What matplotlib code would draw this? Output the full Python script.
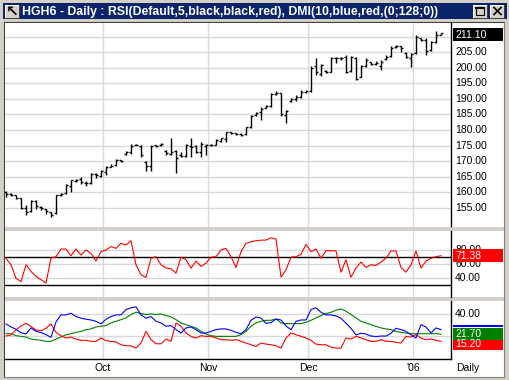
import matplotlib
matplotlib.use("Agg")
import matplotlib.pyplot as plt
from matplotlib.patches import Rectangle
import numpy as np

W, H = 510, 380

# daily OHLC bars (HGH6)
opens = [160.0, 159.5, 159.0, 158.0, 155.0, 153.8, 157.0, 155.3, 154.6, 153.5,
         153.2, 159.2, 159.6, 162.0, 163.6, 164.2, 163.0, 162.9, 165.8, 165.3,
         166.5, 168.2, 168.6, 170.2, 172.2, 173.0, 175.3, 175.0, 169.8, 168.3,
         175.1, 175.2, 173.3, 172.3, 173.2, 172.0, 171.6, 175.0, 174.8, 173.0,
         175.0, 175.3, 175.3, 176.5, 177.0, 179.3, 178.9, 178.6, 178.6, 180.8,
         184.7, 185.7, 187.0, 187.8, 191.6, 192.0, 184.8, 189.2, 189.8, 190.6,
         192.2, 192.6, 200.5, 198.0, 199.0, 198.8, 203.0, 203.2, 203.5, 199.0,
         203.0, 197.0, 200.6, 201.8, 201.2, 200.5, 202.7, 203.8, 206.8, 207.0,
         204.8, 203.2, 204.6, 209.5, 208.8, 205.8, 208.3, 210.6]
highs = [160.3, 159.8, 159.2, 158.2, 155.8, 157.6, 157.6, 155.4, 154.7, 153.6,
         159.2, 159.8, 162.5, 164.0, 164.2, 165.0, 163.5, 166.0, 166.2, 167.0,
         168.3, 169.2, 170.6, 170.4, 173.2, 175.4, 175.4, 175.1, 169.9, 175.3,
         175.3, 175.8, 173.5, 177.5, 173.5, 172.9, 175.6, 177.3, 175.1, 176.2,
         175.6, 175.4, 177.0, 177.5, 179.5, 179.5, 179.1, 179.0, 180.9, 184.8,
         185.9, 187.5, 188.1, 191.9, 192.4, 192.0, 186.3, 190.2, 191.3, 192.8,
         193.0, 200.5, 203.2, 201.3, 199.2, 203.5, 203.6, 203.5, 204.1, 203.8,
         203.5, 200.9, 203.2, 202.0, 202.2, 202.5, 204.0, 207.1, 207.3, 207.1,
         205.2, 204.6, 210.7, 209.7, 209.5, 208.6, 211.8, 211.3]
lows = [158.4, 158.6, 157.7, 154.7, 152.7, 153.6, 154.7, 154.4, 153.1, 152.0,
        153.0, 158.6, 159.3, 160.0, 163.2, 162.6, 161.9, 162.7, 164.5, 165.0,
        165.5, 168.0, 168.5, 169.6, 171.9, 172.4, 175.1, 171.3, 166.7, 166.7,
        174.6, 175.0, 172.1, 171.9, 166.2, 171.3, 171.3, 171.3, 172.7, 171.3,
        171.9, 175.0, 175.1, 176.0, 176.2, 178.6, 178.4, 178.0, 178.3, 180.5,
        184.5, 183.2, 187.0, 187.5, 191.3, 184.5, 182.2, 189.0, 189.3, 190.3,
        192.0, 192.3, 197.8, 197.5, 198.3, 198.6, 201.4, 202.5, 198.2, 198.8,
        196.1, 197.1, 200.4, 201.0, 200.8, 199.3, 202.5, 203.6, 206.5, 205.2,
        203.0, 200.4, 204.3, 208.6, 204.1, 205.5, 208.0, 210.4]
closes = [159.5, 159.0, 158.0, 155.0, 153.5, 157.2, 155.5, 155.0, 153.8, 152.5,
          159.0, 159.5, 162.2, 163.8, 163.8, 163.2, 162.8, 165.7, 165.5, 166.8,
          168.0, 168.5, 170.3, 170.0, 173.0, 175.0, 175.2, 171.8, 168.5, 175.0,
          175.0, 175.5, 172.5, 173.0, 171.0, 171.5, 175.3, 174.5, 173.0, 175.5,
          175.3, 175.2, 176.8, 177.3, 179.2, 179.0, 178.6, 178.4, 180.8, 184.5,
          185.5, 186.8, 187.8, 191.5, 192.0, 185.2, 186.0, 190.0, 190.5, 192.3,
          192.6, 200.0, 198.5, 201.0, 198.6, 203.2, 203.3, 203.0, 198.5, 203.5,
          196.5, 200.5, 202.5, 201.2, 201.5, 201.8, 203.5, 206.5, 207.0, 206.5,
          203.5, 204.3, 210.0, 209.0, 205.5, 208.2, 210.5, 211.1]

# RSI(5)
rsi = [67.8, 58.8, 40.0, 35.4, 58.8, 49.6, 42.6, 38.0, 33.4, 67.8,
       70.0, 80.7, 80.7, 71.4, 80.7, 72.3, 79.3, 74.7, 64.0, 77.0,
       79.3, 84.0, 81.6, 88.5, 86.2, 92.2, 58.8, 44.9, 41.2, 67.8,
       70.0, 58.8, 54.2, 53.2, 47.2, 69.4, 65.7, 54.2, 64.0, 56.5,
       61.2, 69.4, 70.0, 79.3, 81.6, 70.0, 55.0, 77.0, 88.5, 90.8,
       92.2, 93.0, 93.0, 96.4, 94.6, 41.6, 51.8, 69.4, 70.0, 73.2,
       87.1, 77.0, 80.7, 67.8, 78.4, 78.4, 78.0, 48.5, 65.7, 41.6,
       54.2, 62.5, 55.0, 58.8, 57.8, 62.5, 67.8, 78.0, 78.0, 55.0,
       48.5, 58.8, 78.0, 54.2, 64.0, 67.8, 70.0, 71.38]

# DMI(10)
plus_di = [30.9, 28.2, 26.1, 23.0, 21.8, 27.3, 24.3, 23.1, 21.3, 18.8,
           32.7, 39.1, 39.1, 40.6, 37.6, 36.1, 35.2, 34.5, 33.3, 30.9,
           35.2, 37.6, 39.1, 39.1, 43.9, 45.5, 46.4, 39.1, 36.1, 37.6,
           33.3, 31.8, 28.8, 29.4, 25.8, 22.7, 27.3, 28.2, 25.8, 22.7,
           22.7, 24.2, 25.8, 26.4, 26.4, 25.2, 23.3, 22.1, 25.8, 34.2,
           37.2, 36.2, 31.5, 32.1, 35.2, 34.5, 29.0, 25.8, 33.3, 34.5,
           34.5, 43.9, 45.5, 41.5, 39.1, 39.1, 38.2, 36.1, 31.5, 27.0,
           21.0, 22.5, 21.8, 20.0, 19.5, 20.0, 20.0, 22.5, 27.0, 25.8,
           24.2, 21.2, 18.2, 30.3, 28.2, 22.7, 27.3, 25.8]
minus_di = [20.0, 21.0, 25.5, 29.2, 31.5, 28.5, 25.5, 24.8, 27.0, 31.0,
            23.3, 20.3, 18.2, 19.1, 17.3, 16.1, 16.1, 15.2, 15.2, 18.2,
            15.8, 15.2, 14.6, 12.1, 11.2, 11.2, 9.1, 13.7, 24.2, 16.7,
            13.0, 13.0, 17.3, 15.2, 31.8, 28.8, 22.7, 19.7, 18.2, 20.3,
            19.7, 19.7, 18.2, 16.7, 16.7, 16.1, 16.7, 15.2, 13.7, 12.1,
            10.6, 13.7, 12.7, 12.1, 11.2, 9.1, 18.2, 22.7, 21.2, 19.7,
            18.2, 16.1, 12.7, 12.1, 12.1, 10.0, 9.1, 9.1, 18.2, 17.3,
            19.7, 18.2, 16.7, 15.2, 15.2, 16.7, 15.2, 15.2, 14.3, 13.7,
            19.7, 19.1, 21.2, 18.2, 16.7, 17.3, 16.1, 15.2]
adx = [22.1, 22.1, 20.3, 19.7, 19.1, 17.3, 16.7, 16.1, 15.2, 15.2,
       17.3, 19.1, 21.2, 22.1, 23.3, 24.2, 25.8, 26.4, 28.2, 28.8,
       29.4, 31.8, 33.3, 34.8, 36.4, 39.4, 41.5, 40.3, 39.4, 40.0,
       39.4, 40.0, 38.5, 37.3, 34.8, 31.8, 30.3, 28.8, 27.3, 24.2,
       21.8, 20.3, 19.7, 19.7, 19.7, 19.7, 19.7, 21.2, 24.2, 28.8,
       31.8, 33.3, 34.2, 34.2, 35.5, 31.8, 31.2, 31.2, 31.2, 31.2,
       32.4, 34.2, 36.4, 38.5, 40.3, 41.5, 43.3, 44.5, 42.4, 39.4,
       36.4, 33.3, 31.8, 30.3, 28.8, 27.3, 26.4, 25.8, 24.2, 23.3,
       22.7, 22.1, 22.1, 22.1, 22.1, 22.1, 22.1, 21.7]

month_pos = [19.4, 40.4, 60.4, 81.4]
month_labels = ["Oct", "Nov", "Dec", "'06"]
price_grid = [155, 160, 165, 170, 175, 180, 185, 190, 195, 200, 205, 210]
price_labels = [155, 160, 165, 170, 175, 180, 185, 190, 195, 200, 205]
rsi_ticks = [40, 60, 80]
rsi_levels = [30, 70]
dmi_grid = [20, 40]
dmi_labels = [40]

title = "HGH6 - Daily : RSI(Default,5,black,black,red), DMI(10,blue,red,(0;128;0))"

plt.rcParams['font.family'] = ['Liberation Sans', 'DejaVu Sans']

GRID = '#D8D8D8'
WIN = '#D4D0C8'
FS = 7.5

fig = plt.figure(figsize=(W / 100, H / 100), dpi=100)
fig.patch.set_facecolor(WIN)

# window chrome drawn in pixel coordinates
bg = fig.add_axes([0, 0, 1, 1], zorder=0)
bg.set_xlim(0, W)
bg.set_ylim(H, 0)
bg.axis('off')
bg.add_patch(Rectangle((4, 21.5), 501, 355, facecolor='white', edgecolor='none'))
bg.plot([4.5, 4.5], [21.5, 376.5], color='#404040', lw=0.8)
bg.plot([4.5, 504.5], [21.5, 21.5], color='#404040', lw=0.8)
bg.plot([504.5, 504.5], [21.5, 376.5], color='#808080', lw=0.8)
bg.plot([4.5, 504.5], [376.5, 376.5], color='#808080', lw=0.8)
bg.add_patch(Rectangle((3, 3), 504, 16, facecolor='#0A246A', edgecolor='none'))
bg.text(22.5, 11.5, title, color='white', fontweight='bold', fontsize=8.8,
        ha='left', va='center')
# title bar icon and buttons
for bx in (5, 473, 490):
    bg.add_patch(Rectangle((bx, 4.5), 14.5, 13.5, facecolor=WIN, edgecolor='none'))
    bg.plot([bx, bx + 14.5], [4.8, 4.8], color='white', lw=0.7)
    bg.plot([bx + 0.3, bx + 0.3], [4.5, 18], color='white', lw=0.7)
    bg.plot([bx, bx + 14.5], [17.8, 17.8], color='#404040', lw=0.7)
    bg.plot([bx + 14.2, bx + 14.2], [4.5, 18], color='#404040', lw=0.7)
bg.text(12.2, 11.5, '\u2196', color='black', fontweight='bold', fontsize=11,
        ha='center', va='center', family='DejaVu Sans')
bg.add_patch(Rectangle((476.5, 7), 8, 8, facecolor='none', edgecolor='black', lw=0.8))
bg.plot([476.5, 484.5], [7.6, 7.6], color='black', lw=1.4)
bg.plot([494, 501], [7.5, 14.5], color='black', lw=1.2)
bg.plot([494, 501], [14.5, 7.5], color='black', lw=1.2)
# separators between panes
bg.add_patch(Rectangle((5, 226.5), 499.5, 4, facecolor=WIN, edgecolor='none'))
bg.add_patch(Rectangle((5, 296.5), 499.5, 4, facecolor=WIN, edgecolor='none'))


def px_axes(x0, y0, x1, y1):
    ax = fig.add_axes([x0 / W, 1 - y1 / H, (x1 - x0) / W, (y1 - y0) / H], zorder=1)
    ax.set_facecolor('white')
    for s in ('left', 'top', 'bottom'):
        ax.spines[s].set_visible(False)
    ax.spines['right'].set_color('black')
    ax.spines['right'].set_linewidth(1.0)
    ax.set_xticks([])
    ax.set_yticks([])
    ax.set_xlim(-0.2, 89.0)
    for m in month_pos:
        ax.axvline(m, color=GRID, lw=1.0, zorder=0)
    return ax


LAB_X = 1.009   # axes fraction of right-hand labels
BOX_X0 = 1.0045
BOX_W = 0.111


def right_labels(ax, grid, labels):
    for t in grid:
        ax.axhline(t, color=GRID, lw=1.0, zorder=0)
    for t in labels:
        ax.text(LAB_X, t, f"{t:.2f}", transform=ax.get_yaxis_transform(),
                ha='left', va='center', fontsize=FS, color='black',
                clip_on=False, zorder=3)


def value_box(ax, y, half_h, txt, face):
    ax.add_patch(Rectangle((BOX_X0, y - half_h), BOX_W, 2 * half_h,
                           transform=ax.get_yaxis_transform(), facecolor=face,
                           edgecolor='none', clip_on=False, zorder=4))
    if txt:
        ax.text(LAB_X, y, txt, transform=ax.get_yaxis_transform(), ha='left',
                va='center', fontsize=FS, color='white', clip_on=False, zorder=5)


idx = np.arange(len(closes))

# price pane
ax_p = px_axes(5, 23, 451, 226.5)
ax_p.set_ylim(148.95, 214.4)
right_labels(ax_p, price_grid, price_labels)
ax_p.vlines(idx, lows, highs, color='black', lw=1.0, zorder=2)
ax_p.hlines(opens, idx - 0.45, idx, color='black', lw=1.0, zorder=2)
ax_p.hlines(closes, idx, idx + 0.45, color='black', lw=1.0, zorder=2)
value_box(ax_p, closes[-1] - 0.4, 2.0, f"{closes[-1]:.2f}", 'black')

# RSI pane
ax_r = px_axes(5, 230.5, 451, 296.5)
ax_r.set_ylim(14.7, 106.4)
right_labels(ax_r, rsi_ticks, rsi_ticks)
for lv in rsi_levels:
    ax_r.axhline(lv, color='black', lw=1.0, zorder=1)
ax_r.plot(idx, rsi, color='red', lw=0.8, zorder=2)
value_box(ax_r, rsi[-1], 8.8, f"{rsi[-1]:.2f}", 'red')

# DMI pane
ax_d = px_axes(5, 300.5, 451, 358.5)
ax_d.set_ylim(-0.3, 52.1)
ax_d.spines['bottom'].set_visible(True)
ax_d.spines['bottom'].set_color('black')
ax_d.spines['bottom'].set_linewidth(1.0)
right_labels(ax_d, dmi_grid, dmi_labels)
ax_d.plot(idx, adx, color='#008000', lw=0.8, zorder=2)
ax_d.plot(idx, minus_di, color='red', lw=0.8, zorder=2)
ax_d.plot(idx, plus_di, color='blue', lw=0.8, zorder=2)
g_half = 5.3
value_box(ax_d, adx[-1] + g_half + 1.8, 0.8, '', 'blue')
value_box(ax_d, minus_di[-1] - 2.8, g_half, f"{minus_di[-1]:.2f}", 'red')
value_box(ax_d, adx[-1], g_half, f"{adx[-1]:.2f}", '#008000')

for m, lab in zip(month_pos, month_labels):
    ax_d.text(m, -0.16, lab, transform=ax_d.get_xaxis_transform(), ha='center',
              va='center', fontsize=FS, color='black', clip_on=False)
bg.text(468, 367.7, 'Daily', ha='center', va='center', fontsize=FS, color='black')

fig.savefig('out.png', dpi=100, facecolor=fig.get_facecolor())
